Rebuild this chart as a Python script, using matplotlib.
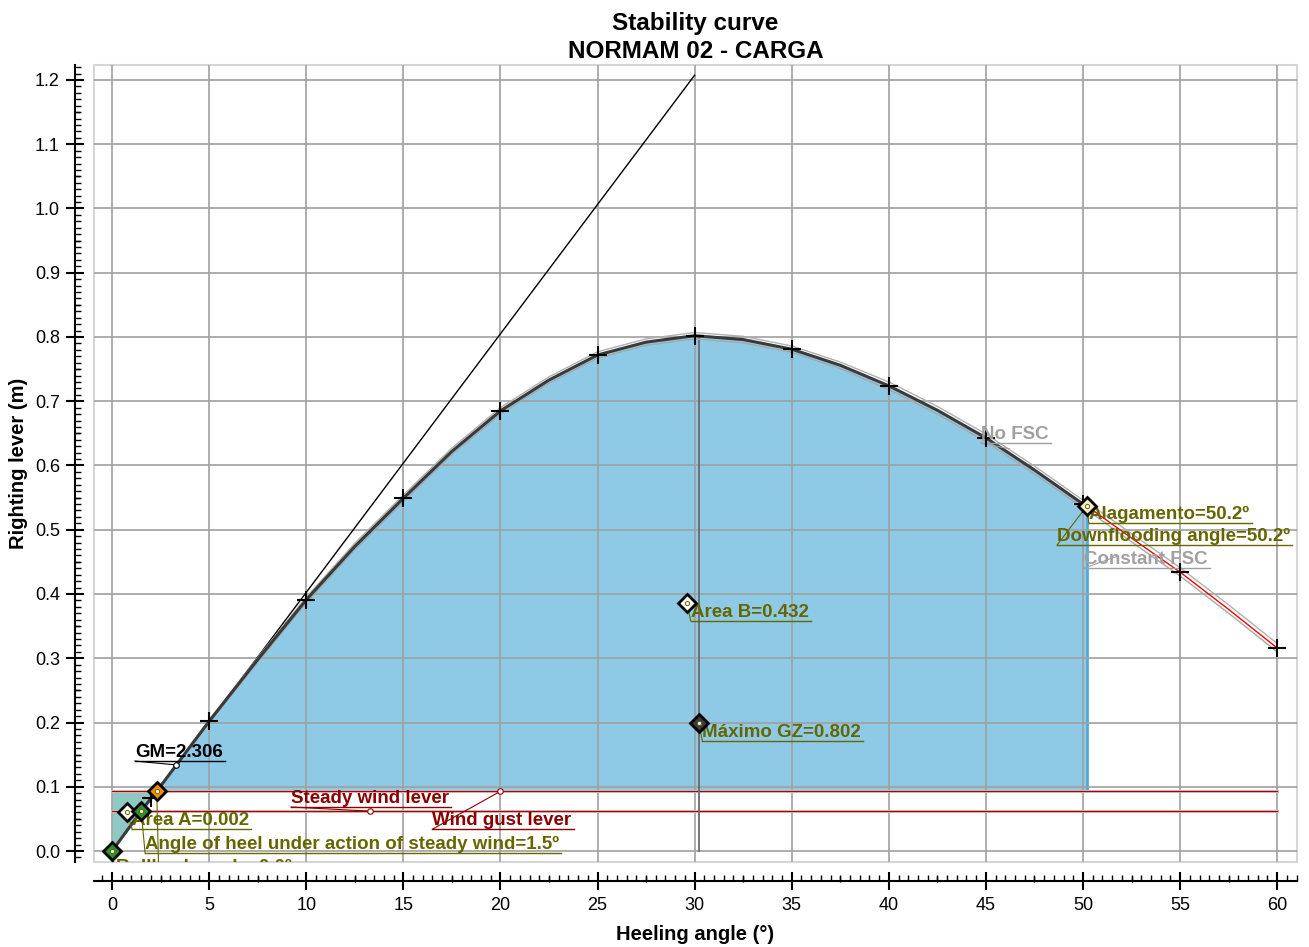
import matplotlib
matplotlib.use("Agg")
import matplotlib.pyplot as plt
from matplotlib.ticker import MultipleLocator, NullFormatter
from matplotlib.patches import Rectangle
import numpy as np

plt.rcParams['font.family'] = ['Liberation Sans', 'DejaVu Sans']

# righting lever curve
angles = [0, 1.5, 2.0, 2.3, 5, 7.5, 10, 12.5, 15, 17.5, 20, 22.5, 25, 27.5, 30,
          32.5, 35, 37.5, 40, 42.5, 45, 47.5, 50, 50.2, 52.5, 55, 57.5, 60]
gz = [0, 0.062, 0.082, 0.093, 0.202, 0.298, 0.391, 0.474, 0.549, 0.622, 0.685,
      0.733, 0.772, 0.792, 0.802, 0.796, 0.781, 0.756, 0.724, 0.686, 0.643,
      0.593, 0.540, 0.537, 0.487, 0.434, 0.376, 0.316]
gz_no_fsc = [0, 0.062, 0.083, 0.094, 0.204, 0.301, 0.395, 0.479, 0.554, 0.627,
             0.690, 0.738, 0.777, 0.797, 0.807, 0.801, 0.786, 0.761, 0.730,
             0.692, 0.649, 0.599, 0.546, 0.543, 0.494, 0.441, 0.383, 0.323]
gz_const_fsc = [0, 0.061, 0.081, 0.092, 0.199, 0.294, 0.386, 0.469, 0.544, 0.617,
                0.680, 0.728, 0.767, 0.787, 0.797, 0.791, 0.776, 0.751, 0.718,
                0.680, 0.637, 0.587, 0.534, 0.531, 0.481, 0.428, 0.370, 0.310]

# points marked with "+"
plus_angles = [2, 5, 10, 15, 20, 25, 30, 35, 40, 45, 50, 55, 60]
plus_gz = [0.082, 0.202, 0.391, 0.549, 0.685, 0.772, 0.802, 0.781, 0.724,
           0.643, 0.540, 0.434, 0.316]

GM = 2.306
gm_angles = [0, 30]
steady_lever = 0.062
gust_lever = 0.093
lever_range = [0, 60]
gust_angle = 2.3
downflooding = 50.2
max_gz_angle = 30.2
max_gz = 0.802

# diamond markers
diamond_x = [0, 0.77, 1.5, 2.3, 29.6, 30.2, 50.2]
diamond_y = [0, 0.061, 0.062, 0.093, 0.386, 0.199, 0.537]
diamond_colors = ['#2f8f2f', 'white', '#2f8f2f', '#f28c00', 'white', '#3c3c3c', '#f3efc9']

olive = '#666600'
dred = '#8b0000'
lgray = '#a0a0a0'
# label, text x, underline y, point x, point y, colour
notes = [
    ("GM=2.306", 1.18, 0.140, 3.3, 0.134, 'black'),
    ("Steady wind lever", 9.22, 0.0685, 13.3, 0.062, dred),
    ("Wind gust lever", 16.5, 0.034, 20.0, 0.093, dred),
    ("Area A=0.002", 1.03, 0.034, 0.77, 0.061, olive),
    ("Angle of heel under action of steady wind=1.5º", 1.7, -0.003, 1.5, 0.062, olive),
    ("Rollback angle=0.0º", 0.2, -0.039, 0.0, 0.0, olive),
    ("Area B=0.432", 29.8, 0.358, 29.6, 0.386, olive),
    ("Máximo GZ=0.802", 30.4, 0.171, 30.2, 0.199, olive),
    ("Alagamento=50.2º", 50.3, 0.510, 50.2, 0.537, olive),
    ("Downflooding angle=50.2º", 48.66, 0.476, 50.2, 0.537, olive),
    ("Constant FSC", 50.05, 0.440, 51.7, 0.458, lgray),
    ("No FSC", 44.75, 0.635, 46.2, 0.626, lgray),
]

W, H = 1309, 947
fig = plt.figure(figsize=(W / 100, H / 100), dpi=100)
ax = fig.add_axes([94 / W, 1 - 862 / H, 1203 / W, 797 / H])
ax.set_xlim(-0.93, 61.02)
ax.set_ylim(-0.0171, 1.2233)

a = np.array(angles)
g = np.array(gz)

# areas
maskA = a <= gust_angle
ax.fill_between(a[maskA], g[maskA], gust_lever, color='#8fc9c6', zorder=1, lw=0)
maskB = (a >= gust_angle) & (a <= downflooding)
ax.fill_between(a[maskB], g[maskB], gust_lever, color='#8ecae6', zorder=1, lw=0)
ax.plot([downflooding, downflooding], [gust_lever, gz[angles.index(downflooding)]],
        color='#55a8dc', lw=2, zorder=2)

ax.grid(which='major', color='#a0a0a0', lw=1.2)
ax.set_axisbelow(False)

# GM tangent
ax.plot(gm_angles, [GM * np.radians(v) for v in gm_angles], color='black', lw=1, zorder=3)

# wind levers
for lev in (steady_lever, gust_lever):
    ax.plot(lever_range, [lev, lev], color='#e2b4b4', lw=2.2, zorder=3)
    ax.plot(lever_range, [lev, lev], color='#8b1010', lw=0.8, zorder=3)

# max GZ vertical
ax.plot([max_gz_angle, max_gz_angle], [0, max_gz], color='#6a6a6a', lw=1.3, zorder=3)

# curves
ax.plot(angles, gz_no_fsc, color='#b0b0b0', lw=1, zorder=4)
ax.plot(angles, gz_const_fsc, color='#a8a8a8', lw=1, zorder=4)
i_df = angles.index(downflooding)
ax.plot(angles[:i_df + 1], gz[:i_df + 1], color='#3a3a3a', lw=2.2, zorder=4)
ax.plot(angles[i_df:], gz[i_df:], color='red', lw=1, zorder=4)

ax.plot(plus_angles, plus_gz, '+', color='black', ms=13, mew=1.5, zorder=6)

# annotations
texts = []
for label, tx, ty, px, py, col in notes:
    t = ax.text(tx, ty, label, color=col, fontsize=13.5, fontweight='bold',
                ha='left', va='bottom', clip_on=True, zorder=7)
    texts.append(t)

# leader to hidden label of gust heel angle
ax.plot([gust_angle, 2.4], [gust_lever, -0.03], color=olive, lw=0.8, zorder=5)

fig.canvas.draw()
renderer = fig.canvas.get_renderer()
inv = ax.transData.inverted()
for t, (label, tx, ty, px, py, col) in zip(texts, notes):
    bb = t.get_window_extent(renderer)
    (x0, y0), (x1, y1) = inv.transform(bb.get_points())
    ax.plot([x0, x1 + 0.1], [ty, ty], color=col, lw=1, zorder=5)
    ax.plot([tx, px], [ty, py], color=col, lw=0.8, zorder=5)

# small circles on levers
ax.plot([3.3], [0.134], 'o', ms=4, mfc='white', mec='black', mew=0.8, zorder=7)
ax.plot([13.3], [steady_lever], 'o', ms=4, mfc='white', mec=dred, mew=0.8, zorder=7)
ax.plot([20.0], [gust_lever], 'o', ms=4, mfc='white', mec=dred, mew=0.8, zorder=7)

for x, y, c in zip(diamond_x, diamond_y, diamond_colors):
    ax.plot([x], [y], 'D', ms=9.5, mfc=c, mec='black', mew=2, zorder=8)
    ax.plot([x], [y], 'o', ms=3, mfc='white', mec=olive, mew=0.7, zorder=9)

# frame and spines
for s in ('top', 'right'):
    ax.spines[s].set_visible(False)
for s in ('left', 'bottom'):
    ax.spines[s].set_position(('outward', 14))
    ax.spines[s].set_linewidth(1.5)
ax.add_patch(Rectangle((0, 0), 1, 1, transform=ax.transAxes, fill=False,
                       ec='#d6d6d6', lw=1.5, clip_on=False, zorder=0))

ax.xaxis.set_major_locator(MultipleLocator(5))
ax.xaxis.set_minor_locator(MultipleLocator(0.5))
ax.yaxis.set_major_locator(MultipleLocator(0.1))
ax.yaxis.set_minor_locator(MultipleLocator(0.01))
ax.yaxis.set_major_formatter(plt.FormatStrFormatter('%.1f'))
ax.tick_params(which='major', direction='inout', length=13, width=1.5, labelsize=13)
ax.tick_params(axis='x', which='major', pad=5)
ax.tick_params(axis='y', which='major', pad=4)
ax.tick_params(which='minor', direction='in', length=4.3, width=1)

secx = ax.secondary_xaxis(-14 / 797)
secx.set_xticks(np.arange(2.5, 60, 5))
secx.xaxis.set_major_formatter(NullFormatter())
secx.tick_params(direction='out', length=4.3, width=1)
secx.spines['bottom'].set_visible(False)
secy = ax.secondary_yaxis(-14 / 1203)
secy.set_yticks(np.arange(0.05, 1.2, 0.1))
secy.yaxis.set_major_formatter(NullFormatter())
secy.tick_params(direction='out', length=4.3, width=1)
secy.spines['left'].set_visible(False)

ax.set_xlabel("Heeling angle (°)", fontsize=14.5, fontweight='bold')
ax.set_ylabel("Righting lever (m)", fontsize=14.5, fontweight='bold')
ax.xaxis.set_label_coords(0.5, -0.079)
ax.yaxis.set_label_coords(-0.055, 0.5)
ax.set_title("Stability curve\nNORMAM 02 - CARGA", fontsize=17.5, fontweight='bold',
             pad=5, linespacing=1.3)

fig.savefig("out.png", dpi=100)
